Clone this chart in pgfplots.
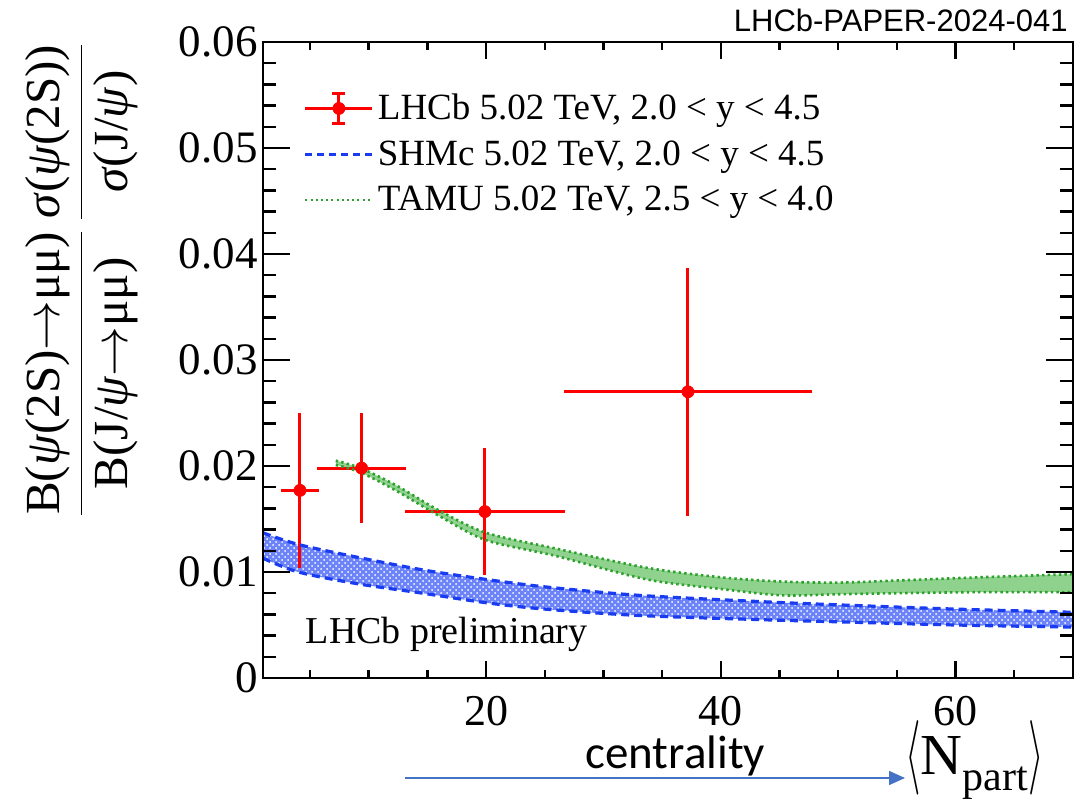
\documentclass[border=0pt]{standalone}
\usepackage{pgfplots}
\pgfplotsset{compat=1.18}
\usepackage{pgfplotstable}
\usepgfplotslibrary{fillbetween}
\usetikzlibrary{patterns,arrows.meta}
\usepackage{graphicx}
\usepackage{fontspec}
\setmainfont{Liberation Serif}
\newfontfamily\arialfont{Liberation Sans}
\newfontfamily\calibrifont{Carlito}

\definecolor{lhcbred}{RGB}{255,0,0}
\definecolor{shmline}{RGB}{25,60,240}
\definecolor{shmfill}{RGB}{92,118,250}
\definecolor{tamuline}{RGB}{45,160,45}
\definecolor{tamufill}{RGB}{130,205,130}
\definecolor{arrowblue}{RGB}{68,114,196}

% LHCb measurement: <Npart>, ratio, half-width of bin, uncertainty
\pgfplotstableread{
x      y       ex     ey
4.15   0.0177  1.65   0.0073
9.4    0.0198  3.8    0.0052
19.9   0.0157  6.8    0.0060
37.2   0.0270  10.6   0.0117
}\lhcbdata

% SHMc prediction band
\pgfplotstableread{
x     up      lo
1     0.0137  0.0113
4     0.0126  0.0100
9     0.0114  0.0089
14.6  0.0102  0.0080
20    0.0093  0.0071
25    0.0086  0.0065
33    0.0078  0.0059
43.5  0.0072  0.0055
50    0.0069  0.0053
60    0.0065  0.0050
70    0.0062  0.0048
}\shmdata

% TAMU prediction band
\pgfplotstableread{
x     up      lo
7.2   0.0205  0.0201
9.3   0.0198  0.0194
12.3  0.0182  0.0177
16    0.0158  0.0153
20    0.0137  0.0130
26    0.0122  0.0115
33.7  0.0104  0.0093
40    0.0095  0.0084
45.2  0.0091  0.0078
50    0.0090  0.0079
55    0.0092  0.0080
62    0.0095  0.0081
70    0.0098  0.0081
}\tamudata

\pgfplotsset{
  frame/.style={
    at={(0pt,0pt)}, anchor=south west,
    scale only axis, width=405pt, height=318pt,
    xmin=1, xmax=70, ymin=0, ymax=0.06,
    axis line style={line width=1.3pt},
    every tick/.style={black, line width=1.2pt},
    tick align=inside,
    scaled x ticks=false, scaled y ticks=false,
    /pgf/number format/assume math mode=true,
  }
}

\begin{document}
\begin{tikzpicture}
% page extent
\path (-131.5pt,-61pt) rectangle (410.5pt,339pt);

\begin{axis}[frame,
  xtick={20,40,60},
  minor xtick={5,10,15,25,30,35,45,50,55,65},
  xtick pos=both, xticklabel pos=lower,
  ytick=\empty,
  major tick length=8.5pt, minor tick length=4pt,
  xticklabels={20,40,60},
  xticklabel style={font=\fontsize{22}{25}\selectfont, inner sep=0pt, yshift=-9pt},
  legend style={at={(0.05,0.925)}, anchor=north west, draw=none, fill=none,
    inner sep=0pt, font=\fontsize{18.5}{22}\selectfont,
    cells={anchor=west}, row sep=5pt},
  legend cell align=left,
]
% measured points
\addplot[lhcbred, only marks, mark=*, mark size=3pt, forget plot,
  error bars/.cd, x dir=both, x explicit, y dir=both, y explicit,
  error mark=none, error bar style={line width=1.5pt, lhcbred}]
  table[x=x, y=y, x error=ex, y error=ey]{\lhcbdata};
\addlegendimage{legend image code/.code={
  \draw[lhcbred, line width=1.5pt] (0pt,0pt) -- (33.5pt,0pt)
    (16.75pt,-7.5pt) -- (16.75pt,7.5pt)
    (13.5pt,7.5pt) -- (20pt,7.5pt) (13.5pt,-7.5pt) -- (20pt,-7.5pt);
  \fill[lhcbred] (16.75pt,0pt) circle (3pt);}}
\addlegendentry{LHCb 5.02 TeV, 2.0 < y < 4.5}

% SHMc band
\addplot[draw=none, smooth, name path=shmup, forget plot] table[x=x, y=up]{\shmdata};
\addplot[draw=none, smooth, name path=shmlo, forget plot] table[x=x, y=lo]{\shmdata};
\addplot[shmfill, fill opacity=0.9, forget plot] fill between[of=shmup and shmlo];
\addplot[pattern=crosshatch dots, pattern color=white, forget plot] fill between[of=shmup and shmlo];
\addplot[shmline, smooth, line width=1.6pt, dash pattern=on 4pt off 2.5pt, forget plot]
  table[x=x, y=up]{\shmdata};
\addplot[shmline, smooth, line width=1.6pt, dash pattern=on 4pt off 2.5pt, forget plot]
  table[x=x, y=lo]{\shmdata};
\addlegendimage{legend image code/.code={\draw[shmline, line width=1.2pt, dash pattern=on 3.5pt off 2.5pt] (0pt,0pt) -- (33.5pt,0pt);}}
\addlegendentry{SHMc 5.02 TeV, 2.0 < y < 4.5}

% TAMU band
\addplot[draw=none, smooth, name path=tamuup, forget plot] table[x=x, y=up]{\tamudata};
\addplot[draw=none, smooth, name path=tamulo, forget plot] table[x=x, y=lo]{\tamudata};
\addplot[tamufill, fill opacity=0.9, forget plot] fill between[of=tamuup and tamulo];
\addplot[tamuline, smooth, line width=1.3pt, dash pattern=on 1.2pt off 1.6pt, forget plot]
  table[x=x, y=up]{\tamudata};
\addplot[tamuline, smooth, line width=1.3pt, dash pattern=on 1.2pt off 1.6pt, forget plot]
  table[x=x, y=lo]{\tamudata};
\addlegendimage{legend image code/.code={\draw[tamuline, line width=1.2pt, dash pattern=on 1pt off 1.6pt] (0pt,0pt) -- (33.5pt,0pt);}}
\addlegendentry{TAMU 5.02 TeV, 2.5 < y < 4.0}

\node[anchor=base west, font=\fontsize{19}{22}\selectfont] at (axis cs:4.05,0.0033) {LHCb preliminary};
\end{axis}

\begin{axis}[frame,
  xtick=\empty,
  ytick={0,0.01,0.02,0.03,0.04,0.05,0.06},
  yticklabels={0,0.01,0.02,0.03,0.04,0.05,0.06},
  minor y tick num=4,
  ytick pos=both, yticklabel pos=left,
  major tick length=13.5pt, minor tick length=6.5pt,
  yticklabel style={font=\fontsize{22.5}{25}\selectfont, inner sep=0pt, xshift=-2.5pt},
]
\end{axis}

% axis title on the vertical axis
\node[rotate=90, anchor=east, inner sep=0pt, font=\fontsize{24.5}{28}\selectfont] at (-90.5pt,318pt)
  {$\displaystyle\frac{\mbox{B(\textit{ψ}(2S)$\rightarrow$μμ)}}{\mbox{B(J/\textit{ψ}$\rightarrow$μμ)}}\,\frac{\mbox{\textit{σ}(\textit{ψ}(2S))}}{\mbox{\textit{σ}(J/\textit{ψ})}}$};

% horizontal axis title
\node[anchor=base west, inner sep=0pt, font=\fontsize{29}{33}\selectfont] at (321pt,-48pt)
  {\raisebox{-1pt}{\scalebox{0.8}[1.5]{$\langle$}}N\raisebox{-8pt}{\fontsize{21}{24}\selectfont part}\raisebox{-1pt}{\scalebox{0.8}[1.5]{$\rangle$}}};

\node[anchor=base west, inner sep=0pt, font=\calibrifont\fontsize{23.5}{28}\selectfont] at (161pt,-45pt) {centrality};
\draw[arrowblue, line width=0.8pt, -{Triangle[length=8pt, width=7pt]}] (71pt,-50pt) -- (321pt,-50pt);

\node[anchor=base east, inner sep=0pt, font=\arialfont\fontsize{15.5}{18}\selectfont] at (402.5pt,323pt) {LHCb-PAPER-2024-041};
\end{tikzpicture}
\end{document}
